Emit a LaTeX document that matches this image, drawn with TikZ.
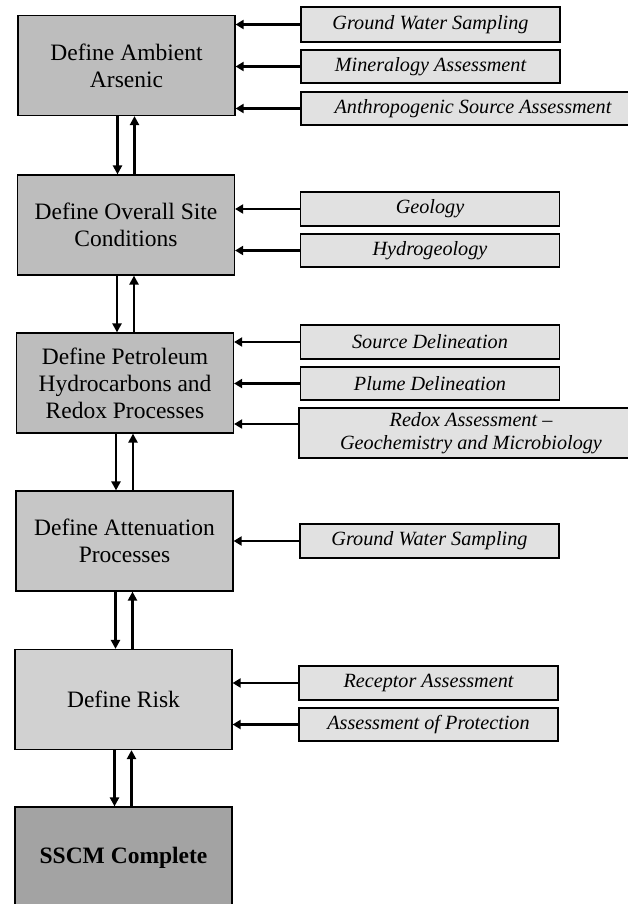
\documentclass[tikz,border=0pt]{standalone}
\usepackage{fontspec}
\setmainfont{Liberation Serif}
\usetikzlibrary{arrows.meta}
\definecolor{taskgray}{HTML}{BDBDBD}
\definecolor{tasklight}{HTML}{C6C6C6}
\definecolor{donegray}{HTML}{A3A3A3}
\definecolor{inputgray}{HTML}{E1E1E1}
\begin{document}
\begin{tikzpicture}[x=1pt,y=-1pt,
  task/.style={draw=black, line width=1.2pt, fill=taskgray, minimum width=217pt,
    minimum height=100pt, inner sep=0pt, align=center,
    font=\fontsize{23.5}{27}\selectfont},
  input/.style={draw=black, line width=1.2pt, fill=inputgray, minimum width=259pt,
    minimum height=34pt, inner sep=0pt, align=center,
    font=\fontsize{20.2}{23}\selectfont\itshape},
  wide/.style={input, minimum width=344pt},
  feed/.style={line width=2.6pt, -{Triangle[length=8pt,width=9pt]}},
  flow/.style={line width=2.8pt, -{Triangle[length=9pt,width=9pt]}}
]
\useasboundingbox (0,0) rectangle (628,904);
\fill[white] (0,0) rectangle (628,904);

% main steps
\node[task] (a1) at (126.5,65.5) {Define Ambient\\Arsenic};
\node[task] (a2) at (126,225) {Define Overall Site\\Conditions};
\node[task] (a3) at (125,383) {Define Petroleum\\Hydrocarbons and\\Redox Processes};
\node[task, fill=tasklight] (a4) at (124.5,541) {Define Attenuation\\Processes};
\node[task, fill=tasklight!80!white] (a5) at (123.5,699.5) {Define Risk};
\node[task, fill=donegray, minimum height=102pt, font=\fontsize{23.5}{27}\selectfont\bfseries]
  (a6) at (123.5,858) {SSCM Complete};

% inputs to each step
\node[input, minimum height=35pt] (g11) at (430.5,24.5) {Ground Water Sampling};
\node[input, minimum height=33pt] (g12) at (430.5,66.5) {Mineralogy Assessment};
\node[wide, minimum height=33pt] (g13) at (473,108.5) {Anthropogenic Source Assessment};
\node[input] (g21) at (430,209) {Geology};
\node[input, minimum height=33pt] (g22) at (430,250.5) {Hydrogeology};
\node[input] (g31) at (430,342) {Source Delineation};
\node[input, minimum height=33pt] (g32) at (430,383.5) {Plume Delineation};
\node[wide, minimum height=50pt] (g33) at (471,433)
  {Redox Assessment --\\Geochemistry and Microbiology};
\node[input] (g41) at (429.5,541) {Ground Water Sampling};
\node[input] (g51) at (428.5,683) {Receptor Assessment};
\node[input, minimum height=33pt] (g52) at (428.5,724.5) {Assessment of Protection};

% feed arrows
\foreach \g/\a in {g11/a1, g12/a1, g13/a1, g21/a2, g22/a2,
                   g31/a3, g32/a3, g41/a4, g51/a5, g52/a5}
  \draw[feed] (\g.west) -- (\g.west -| \a.east);
\draw[feed] ([yshift=9pt]g33.west) -- ([yshift=9pt]g33.west -| a3.east);

% forward and back between steps
\foreach \a/\b in {a1/a2, a2/a3, a3/a4, a4/a5, a5/a6} {
  \draw[flow] ([xshift=-9pt]\a.south) -- ([xshift=-9pt]\a.south |- \b.north);
  \draw[flow] ([xshift=8pt]\a.south |- \b.north) -- ([xshift=8pt]\a.south);
}
\end{tikzpicture}
\end{document}
